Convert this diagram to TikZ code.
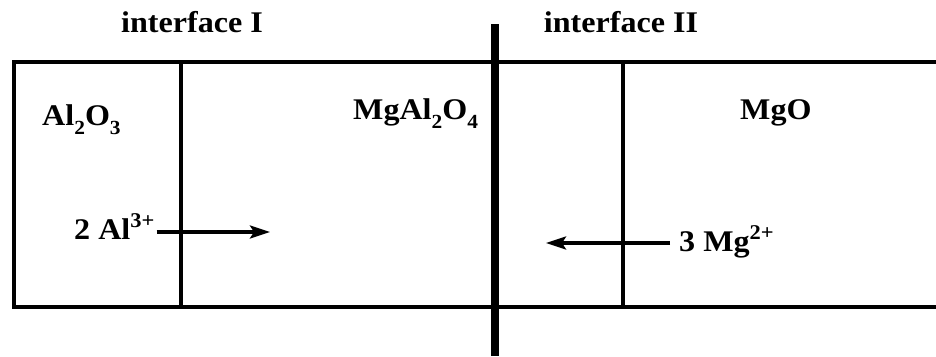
\documentclass[tikz,border=0pt]{standalone}
\usepackage{fontspec}
\setmainfont{Liberation Serif}
\usetikzlibrary{arrows.meta}
\newcommand\chemsub[1]{\raisebox{-9pt}{\fontsize{20}{24}\selectfont #1}}
\newcommand\chemsup[1]{\raisebox{11.5pt}{\fontsize{21}{24}\selectfont #1}}
\tikzset{
  lbl/.style={font=\fontsize{30}{36}\selectfont\bfseries, inner sep=0pt, xscale=1.07, transform shape},
  boxline/.style={line width=3.5pt},
  ionarrow/.style={line width=3.5pt, -{Stealth[length=20pt,width=13pt,inset=4pt]}},
  thickline/.style={line width=8.5pt}
}
\begin{document}
\begin{tikzpicture}[x=1pt,y=-1pt]
\useasboundingbox (0,0) rectangle (936,356);
% box
\draw[boxline] (936,62) -- (14,62) -- (14,307) -- (936,307);
\draw[boxline] (181,60) -- (181,309);
\draw[boxline] (623,62) -- (623,307);
\draw[thickline] (495,24) -- (495,356);
% labels
\node[lbl, anchor=base] (ifI) at (192,32) {interface I};
\node[lbl, anchor=base] (ifII) at (621,32) {interface II};
\node[lbl, anchor=base west] (alo) at (42,125) {Al\chemsub{2}O\chemsub{3}};
\node[lbl, anchor=base west] (spin) at (353,119) {MgAl\chemsub{2}O\chemsub{4}};
\node[lbl, anchor=base west] (mgo) at (740,119) {MgO};
\node[lbl, anchor=base west] (al) at (74,239) {2 Al\chemsup{3+}};
\node[lbl, anchor=base west] (mg) at (679,251) {3 Mg\chemsup{2+}};
% arrows
\coordinate (alE) at (270,232);
\coordinate (mgE) at (546,243);
\draw[ionarrow] (al.east |- alE) ++(2,0) -- (alE);
\draw[ionarrow] (mg.west |- mgE) ++(-9,0) -- (mgE);
\end{tikzpicture}
\end{document}
